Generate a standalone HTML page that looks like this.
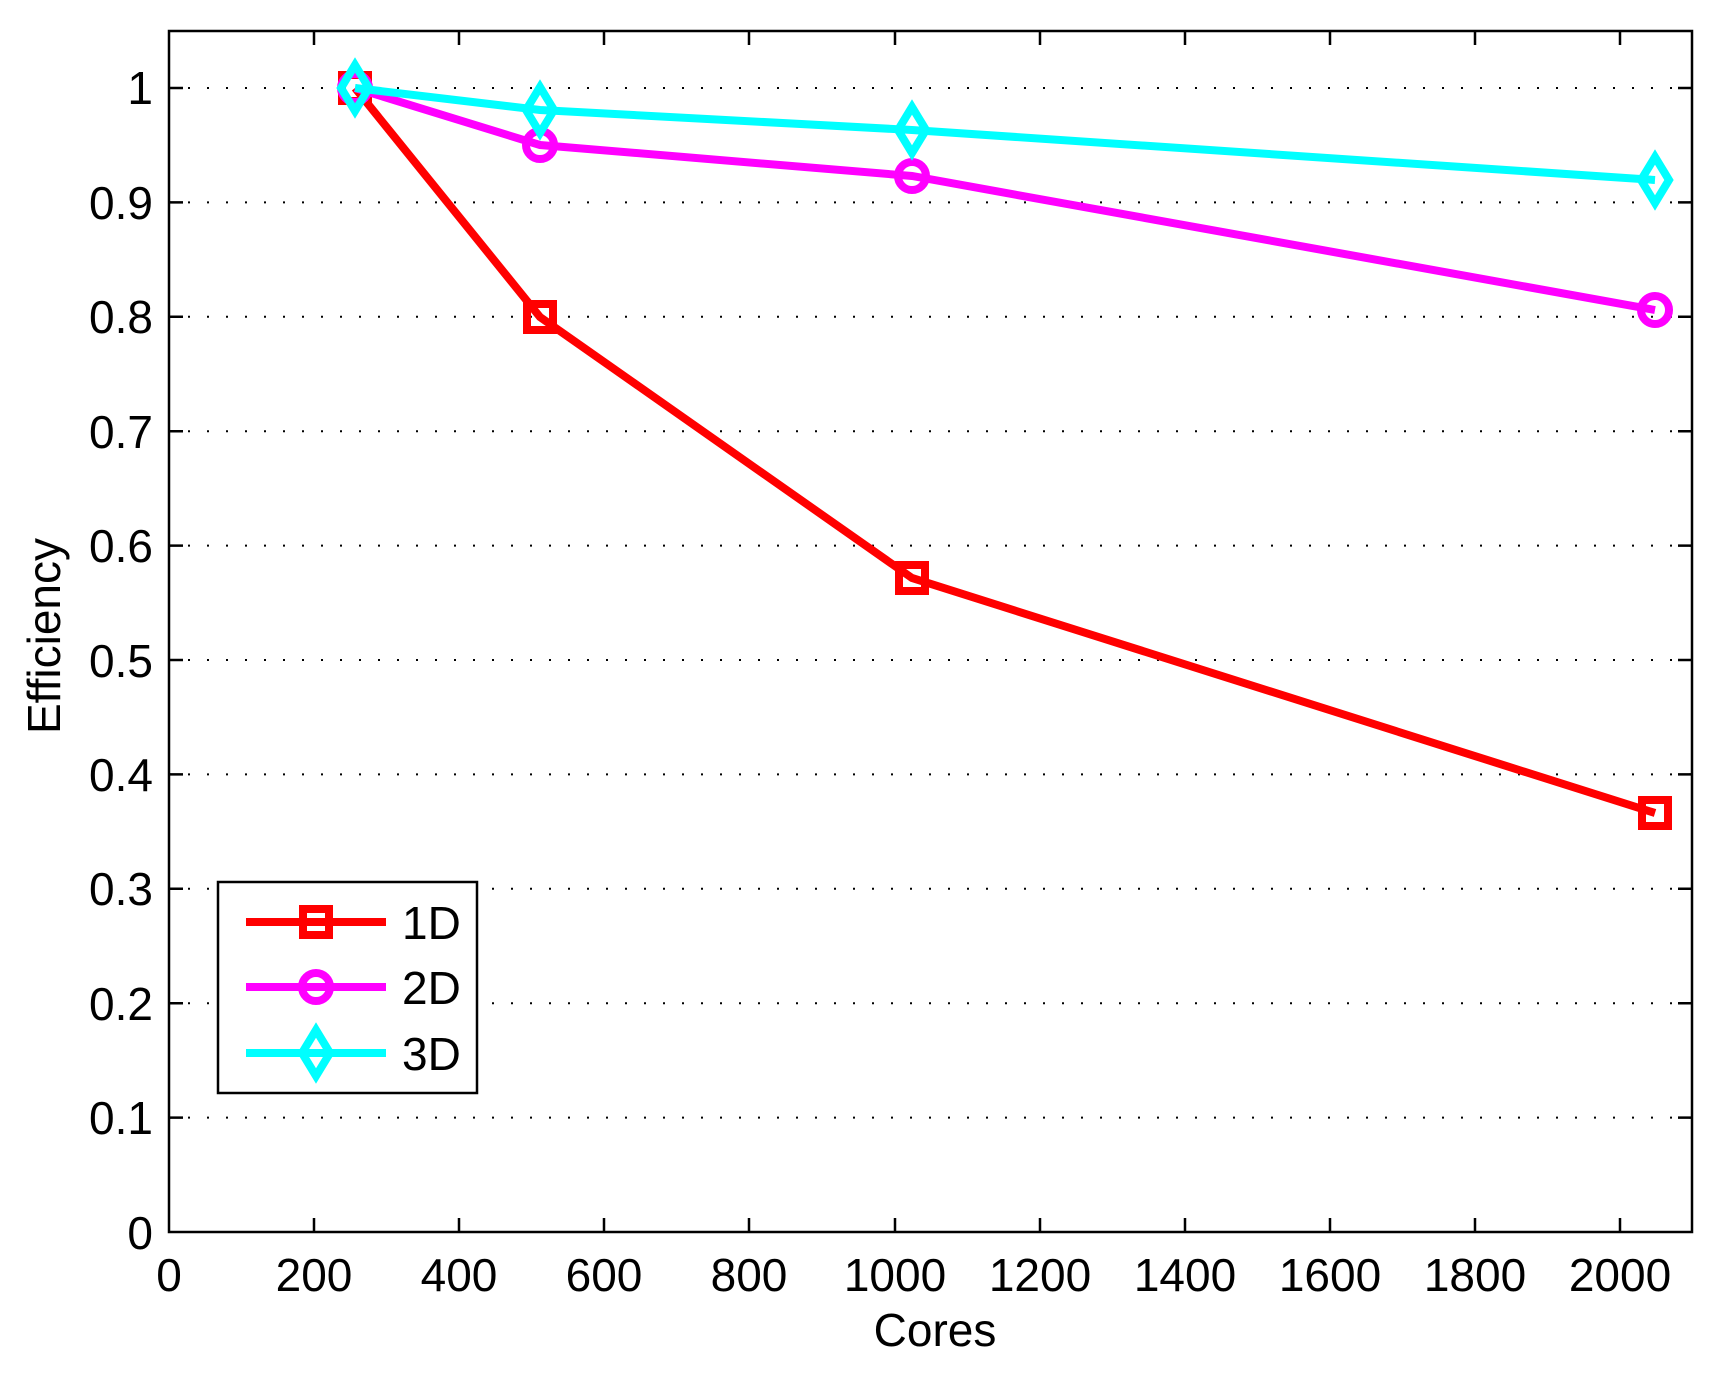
<!DOCTYPE html>
<html><head><style>body{margin:0;background:#fff}svg{display:block}text{font-family:"Liberation Sans",sans-serif;fill:#000}</style></head>
<body>
<svg width="1720" height="1373" viewBox="0 0 1720 1373" xmlns="http://www.w3.org/2000/svg">
<rect width="1720" height="1373" fill="#fff"/>
<g stroke="#000" stroke-width="2" stroke-dasharray="2,17">
<line x1="169" x2="1692" y1="1117.6" y2="1117.6"/><line x1="169" x2="1692" y1="1003.2" y2="1003.2"/><line x1="169" x2="1692" y1="888.8" y2="888.8"/><line x1="169" x2="1692" y1="774.4" y2="774.4"/><line x1="169" x2="1692" y1="660" y2="660"/><line x1="169" x2="1692" y1="545.6" y2="545.6"/><line x1="169" x2="1692" y1="431.2" y2="431.2"/><line x1="169" x2="1692" y1="316.8" y2="316.8"/><line x1="169" x2="1692" y1="202.4" y2="202.4"/><line x1="169" x2="1692" y1="88" y2="88"/>
</g>
<g stroke="#000" stroke-width="2.5" fill="none">
<rect x="169" y="31" width="1523" height="1201"/>
<path d="M314,1232v-14M459,1232v-14M604,1232v-14M749,1232v-14M895,1232v-14M1040,1232v-14M1185,1232v-14M1330,1232v-14M1475,1232v-14M1620,1232v-14
M314,31v14M459,31v14M604,31v14M749,31v14M895,31v14M1040,31v14M1185,31v14M1330,31v14M1475,31v14M1620,31v14
M169,1117.6h14M169,1003.2h14M169,888.8h14M169,774.4h14M169,660h14M169,545.6h14M169,431.2h14M169,316.8h14M169,202.4h14M169,88h14
M1692,1117.6h-14M1692,1003.2h-14M1692,888.8h-14M1692,774.4h-14M1692,660h-14M1692,545.6h-14M1692,431.2h-14M1692,316.8h-14M1692,202.4h-14M1692,88h-14"/>
</g>
<g font-size="46" text-anchor="end">
<text x="153" y="1249">0</text><text x="153" y="1134">0.1</text><text x="153" y="1020">0.2</text><text x="153" y="905">0.3</text><text x="153" y="791">0.4</text><text x="153" y="677">0.5</text><text x="153" y="562">0.6</text><text x="153" y="448">0.7</text><text x="153" y="333">0.8</text><text x="153" y="219">0.9</text><text x="153" y="104">1</text>
</g>
<g font-size="46" text-anchor="middle">
<text x="169" y="1291">0</text><text x="314" y="1291">200</text><text x="459" y="1291">400</text><text x="604" y="1291">600</text><text x="749" y="1291">800</text><text x="895" y="1291">1000</text><text x="1040" y="1291">1200</text><text x="1185" y="1291">1400</text><text x="1330" y="1291">1600</text><text x="1475" y="1291">1800</text><text x="1620" y="1291">2000</text>
<text x="935" y="1346">Cores</text>
<text transform="translate(60,636) rotate(-90)">Efficiency</text>
</g>
<g stroke="#f00" stroke-width="8" fill="none">
<polyline points="355,88 540,317 912,578 1655,813"/>
<rect x="342" y="75" width="26" height="26"/><rect x="527" y="304" width="26" height="26"/><rect x="899" y="565" width="26" height="26"/><rect x="1642" y="800" width="26" height="26"/>
</g>
<g stroke="#f0f" stroke-width="8" fill="none">
<polyline points="355,88 540,145 912,176 1655,310"/>
<circle cx="355" cy="88" r="14"/><circle cx="540" cy="145" r="14"/><circle cx="912" cy="176" r="14"/><circle cx="1655" cy="310" r="14"/>
</g>
<g stroke="#0ff" stroke-width="8" fill="none">
<polyline points="355,88 540,110 912,130 1655,180"/>
<path d="M355,65l14,23l-14,23l-14,-23z M540,87l14,23l-14,23l-14,-23z M912,107l14,23l-14,23l-14,-23z M1655,157l14,23l-14,23l-14,-23z"/>
</g>
<rect x="218" y="882" width="259" height="211" fill="#fff" stroke="#000" stroke-width="2.5"/>
<g stroke-width="8" fill="none">
<line x1="246" x2="386" y1="922" y2="922" stroke="#f00"/><rect x="303" y="909" width="26" height="26" stroke="#f00"/>
<line x1="246" x2="386" y1="987" y2="987" stroke="#f0f"/><circle cx="316" cy="987" r="14" stroke="#f0f"/>
<line x1="246" x2="386" y1="1053" y2="1053" stroke="#0ff"/><path d="M316,1030l14,23l-14,23l-14,-23z" stroke="#0ff"/>
</g>
<g font-size="46"><text x="402" y="939">1D</text><text x="402" y="1004">2D</text><text x="402" y="1070">3D</text></g>
</svg>
</body></html>
